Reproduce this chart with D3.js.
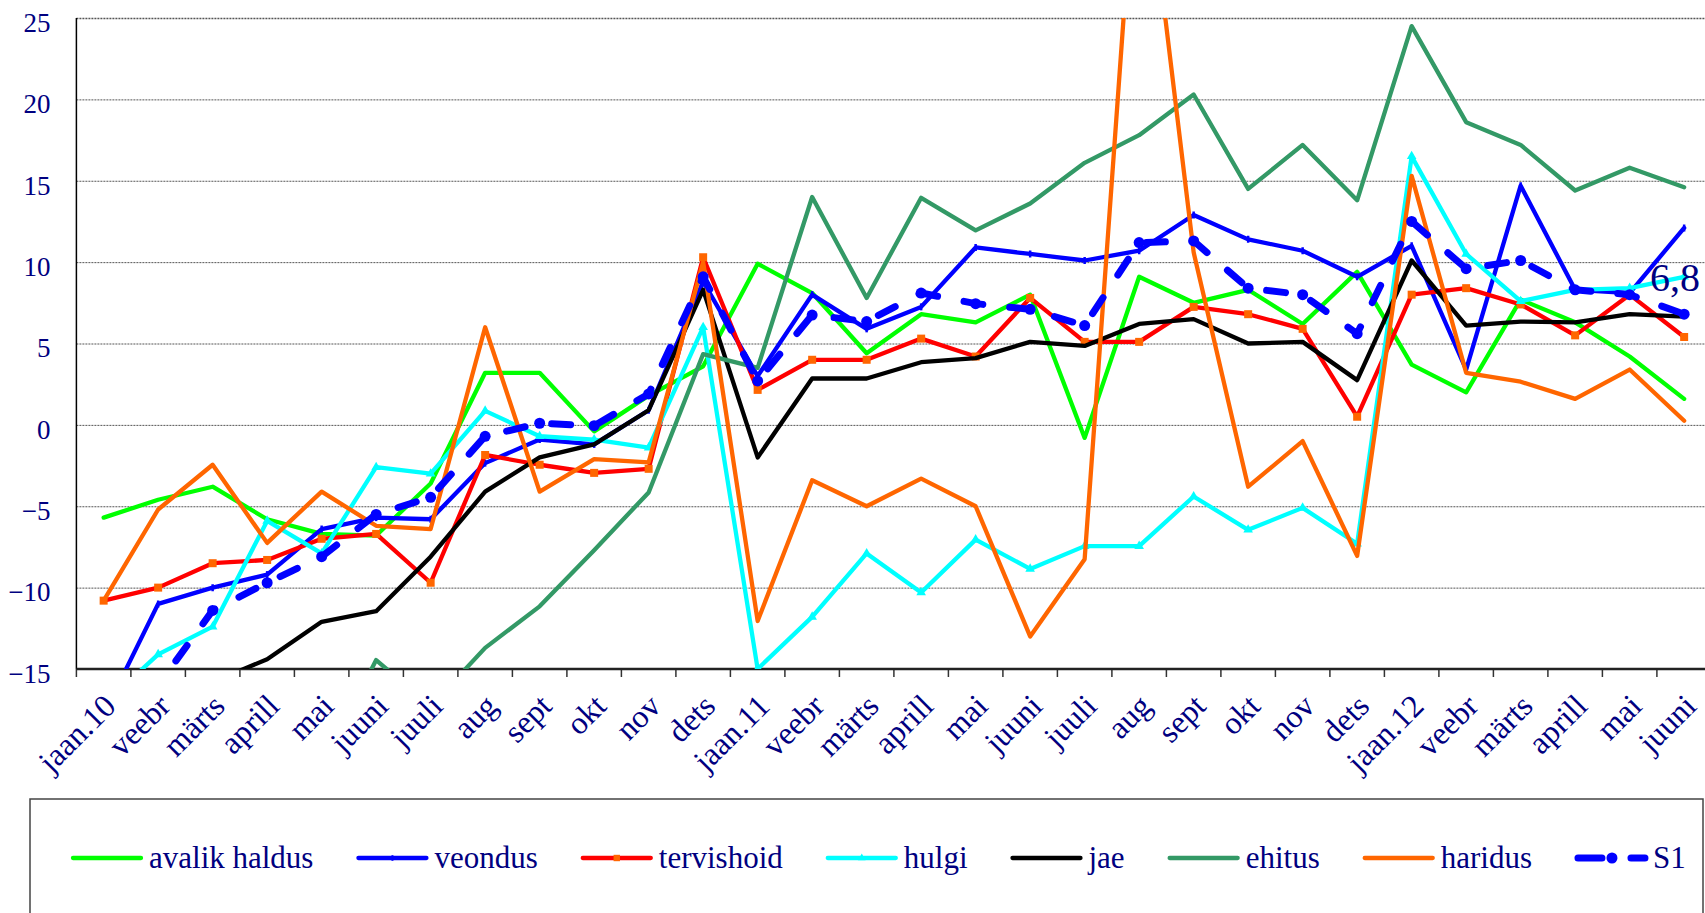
<!DOCTYPE html>
<meta charset="utf-8">
<style>
body { margin: 0; background: #fff; }
svg text { font-family: "Liberation Serif", "Times New Roman", serif; fill: #000080; }
.tick-y { font-size: 27px; font-variant-numeric: oldstyle-nums; }
.tick-x { font-size: 32px; font-variant-numeric: oldstyle-nums; }
.legend text { font-size: 31px; }
</style>
<svg width="1705" height="913"></svg>
<script src="https://cdn.jsdelivr.net/npm/d3@7/dist/d3.min.js"></script>
<script>

// categories (months jaan.10 .. juuni 2012)
var months = ["jaan.10","veebr","märts","aprill","mai","juuni","juuli","aug","sept","okt","nov","dets",
              "jaan.11","veebr","märts","aprill","mai","juuni","juuli","aug","sept","okt","nov","dets",
              "jaan.12","veebr","märts","aprill","mai","juuni"]

var yTicks = [-15, -10, -5, 0, 5, 10, 15, 20, 25]

// series values (values below -15 / above 25 are clipped)
var avalikHaldus = [-5.7,-4.6,-3.8,-5.8,-6.7,-6.8,-3.6,3.2,3.2,-0.4,1.8,3.6,
                    9.9,8.1,4.4,6.8,6.3,8.0,-0.8,9.1,7.5,8.3,6.2,9.4,
                    3.7,2.0,7.7,6.3,4.2,1.6]
var veondus = [-17.8,-11.0,-10.0,-9.2,-6.4,-5.7,-5.8,-2.35,-0.9,-1.2,0.9,8.8,
               3.0,8.0,5.9,7.25,10.9,10.5,10.1,10.7,12.9,11.4,10.7,9.1,
               11.0,3.4,14.7,8.3,8.1,12.1]
var tervishoid = [-10.8,-10.0,-8.5,-8.3,-7.0,-6.7,-9.7,-1.85,-2.45,-2.95,-2.7,10.3,
                  2.15,4.0,4.0,5.3,4.2,7.8,5.1,5.1,7.25,6.8,5.9,0.5,
                  8.0,8.4,7.4,5.5,8.0,5.4]
var hulgi = [-17.2,-14.1,-12.4,-5.9,-7.9,-2.6,-3.0,0.86,-0.7,-0.9,-1.4,6.0,
             -15.0,-11.8,-7.9,-10.3,-7.05,-8.85,-7.45,-7.45,-4.4,-6.45,-5.1,-7.3,
             16.5,10.5,7.6,8.3,8.4,9.1]
var jae = [-19.5,-17.6,-15.8,-14.4,-12.1,-11.45,-8.1,-4.1,-2.0,-1.2,0.9,8.3,
           -2.0,2.85,2.85,3.85,4.1,5.1,4.85,6.2,6.5,5.0,5.1,2.75,
           10.1,6.1,6.35,6.3,6.8,6.65]
var ehitus = [-20.3,-21.5,-22.8,-22.0,-21.0,-14.45,-17.3,-13.7,-11.15,-7.7,-4.15,4.35,
              3.5,14.0,7.8,13.95,11.95,13.6,16.1,17.8,20.3,14.5,17.2,13.8,
              24.5,18.6,17.2,14.4,15.8,14.6]
var haridus = [-10.8,-5.2,-2.45,-7.25,-4.1,-6.2,-6.4,6.0,-4.1,-2.1,-2.3,10.0,
               -12.05,-3.4,-5.0,-3.3,-5.0,-13.0,-8.25,38.3,10.6,-3.8,-1.0,-8.05,
               15.3,3.2,2.65,1.6,3.4,0.25]
var s1 = [-17.8,-16.0,-11.4,-9.7,-8.1,-5.5,-4.45,-0.7,0.1,-0.05,1.9,9.1,
          2.7,6.75,6.35,8.1,7.45,7.1,6.1,11.2,11.3,8.4,8.0,5.6,
          12.5,9.6,10.1,8.3,8.0,6.8]

var seriesNames = ["avalik haldus","veondus","tervishoid","hulgi","jae","ehitus","haridus","S1"]
var seriesColors = ["#00ff00","#0000ff","#ff0000","#00ffff","#000000","#339966","#ff6600","#0000ff"]
var seriesMarkers = ["none","tick","square","triangle","none","none","none","circle"]
var seriesValues = [avalikHaldus, veondus, tervishoid, hulgi, jae, ehitus, haridus, s1]

var lastLabel = "6,8"

var svg = d3.select("svg")
var plotLeft = 76.4, plotRight = 1711.4, plotTop = 18, plotBottom = 669

var x = d3.scaleBand().domain(d3.range(months.length)).range([plotLeft, plotRight]).padding(0)
var cx = function(i){ return x(i) + x.bandwidth() / 2 }
var y = d3.scaleLinear().domain([-15, 25]).range([plotBottom, plotTop])

svg.append("rect").attr("width", 1705).attr("height", 913).attr("fill", "#fff")

// gridlines + y labels
var yAxis = svg.append("g")
  .attr("transform", "translate(" + plotLeft + ",0)")
  .call(d3.axisLeft(y).tickValues(yTicks).tickSize(-(plotRight - plotLeft)).tickPadding(26).tickFormat(d3.format("d")))
yAxis.select(".domain").remove()
yAxis.selectAll(".tick line")
  .attr("stroke", "#555")
  .attr("stroke-width", function(d){ return d == 25 ? 1.6 : 1 })
  .attr("stroke-dasharray", "2,1")
yAxis.selectAll(".tick text")
  .attr("class", "tick-y")
  .attr("fill", "#000080")
  .attr("dy", "0.38em")
  .attr("y", 3)

svg.append("line").attr("x1", plotLeft).attr("x2", plotLeft).attr("y1", plotTop).attr("y2", plotBottom)
  .attr("stroke", "#000").attr("stroke-width", 1.5)

// x axis
var xAxis = svg.append("g")
  .attr("transform", "translate(0," + plotBottom + ")")
  .call(d3.axisBottom(x).tickSize(0).tickFormat(function(i){ return months[i] }))
xAxis.select(".domain").remove()
xAxis.selectAll(".tick text")
  .attr("class", "tick-x")
  .attr("fill", "#000080")
  .attr("text-anchor", "end")
  .attr("y", 0)
  .attr("dy", "0.35em")
  .attr("transform", "translate(6,31) rotate(-45)")

svg.append("g").selectAll("line")
  .data(d3.range(months.length + 1))
  .enter().append("line")
    .attr("x1", function(i){ return plotLeft + i * x.bandwidth() })
    .attr("x2", function(i){ return plotLeft + i * x.bandwidth() })
    .attr("y1", plotBottom).attr("y2", plotBottom + 8)
    .attr("stroke", "#333").attr("stroke-width", 1.5)

svg.append("line").attr("x1", plotLeft).attr("x2", plotRight).attr("y1", plotBottom).attr("y2", plotBottom)
  .attr("stroke", "#222").attr("stroke-width", 2.5)

// series
svg.append("clipPath").attr("id", "plot")
  .append("rect").attr("x", plotLeft).attr("y", plotTop).attr("width", plotRight - plotLeft).attr("height", plotBottom - plotTop)

var plot = svg.append("g").attr("clip-path", "url(#plot)")

var line = d3.line().x(function(d, i){ return cx(i) }).y(function(d){ return y(d) })

function drawMarker(sel, type, color) {
  if (type == "square")
    sel.append("rect").attr("x", -4).attr("y", -4).attr("width", 8).attr("height", 8).attr("fill", "#ff6600")
  else if (type == "circle")
    sel.append("circle").attr("r", 5.5).attr("fill", color)
  else if (type == "triangle")
    sel.append("path").attr("d", d3.symbol().type(d3.symbolTriangle).size(40)).attr("fill", color)
  else if (type == "tick")
    sel.append("path").attr("d", "M0,-3.5V3.5").attr("stroke", color).attr("stroke-width", 2.5)
}

seriesValues.forEach(function(vals, k){
  var isS1 = seriesNames[k] == "S1"
  plot.append("path")
    .datum(vals)
    .attr("d", line)
    .attr("fill", "none")
    .attr("stroke", seriesColors[k])
    .attr("stroke-width", isS1 ? 7 : 4.3)
    .attr("stroke-linejoin", "round")
    .attr("stroke-linecap", "round")
    .attr("stroke-dasharray", isS1 ? "19,27" : null)

  if (seriesMarkers[k] != "none") {
    plot.append("g").selectAll("g")
      .data(vals)
      .enter().append("g")
        .attr("transform", function(d, i){ return "translate(" + cx(i) + "," + y(d) + ")" })
        .each(function(){ drawMarker(d3.select(this), seriesMarkers[k], seriesColors[k]) })
  }
})

// label of last S1 value
svg.append("text")
  .attr("x", 1700).attr("y", 291)
  .attr("text-anchor", "end")
  .style("font-size", "40px")
  .text(lastLabel)

// legend
var legend = svg.append("g").attr("class", "legend")
legend.append("rect")
  .attr("x", 30).attr("y", 799).attr("width", 1673).attr("height", 200)
  .attr("fill", "none").attr("stroke", "#444").attr("stroke-width", 1.5)

var lx = 71, ly = 858
seriesNames.forEach(function(name, k){
  var g = legend.append("g").attr("transform", "translate(" + lx + "," + ly + ")")
  if (name == "S1") {
    g.append("line").attr("x1", 3).attr("x2", 27).attr("stroke", seriesColors[k]).attr("stroke-width", 7).attr("stroke-linecap", "round")
    g.append("circle").attr("cx", 37).attr("r", 5.5).attr("fill", seriesColors[k])
    g.append("line").attr("x1", 56).attr("x2", 70).attr("stroke", seriesColors[k]).attr("stroke-width", 7).attr("stroke-linecap", "round")
  } else {
    g.append("line").attr("x1", 2).attr("x2", 70).attr("stroke", seriesColors[k]).attr("stroke-width", 4.3).attr("stroke-linecap", "round")
    if (seriesMarkers[k] != "none")
      drawMarker(g.append("g").attr("transform", "translate(36,0) scale(0.8)"), seriesMarkers[k], seriesColors[k])
  }
  var t = g.append("text").attr("x", 78).attr("y", 10).text(name)
  lx += 78 + t.node().getComputedTextLength() + 43
})
</script>
